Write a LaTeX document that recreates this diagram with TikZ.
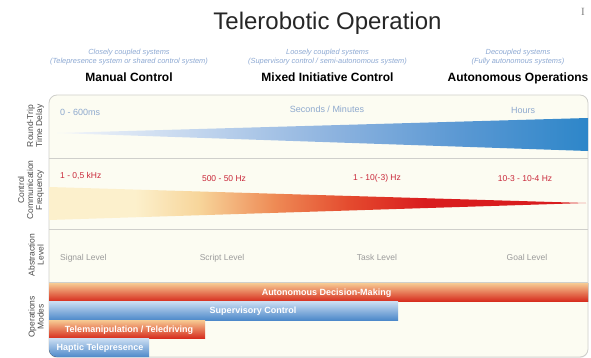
\documentclass[tikz,border=0pt]{standalone}
\usepackage{fontspec}
\setmainfont{Liberation Sans}
\newfontfamily\cursorFont{Liberation Serif}
\usetikzlibrary{shadows}
\tikzstyle{sheet} = [x = 1pt, y = -1pt]
\definecolor{panelFill}{HTML}{FCFCF2}
\definecolor{panelEdge}{HTML}{CFCFCB}
\definecolor{titleGray}{HTML}{262626}
\definecolor{subBlue}{HTML}{8CA8D2}
\definecolor{rowGray}{HTML}{4A4A4A}
\definecolor{delayBlue}{HTML}{8EA9CE}
\definecolor{freqRed}{HTML}{C9283A}
\definecolor{levelGray}{HTML}{9B9B9B}
\definecolor{delayPale}{HTML}{F4F6FA}
\definecolor{delayLight}{HTML}{C3D6EE}
\definecolor{delayMid}{HTML}{8DB3DF}
\definecolor{delayDeep}{HTML}{5A98D3}
\definecolor{delayDark}{HTML}{2D86C9}
\definecolor{freqPale}{HTML}{FCF0CC}
\definecolor{freqSand}{HTML}{F7D59A}
\definecolor{freqOrange}{HTML}{EE8A55}
\definecolor{freqScarlet}{HTML}{E44A2E}
\definecolor{freqCrimson}{HTML}{D91C1E}
\definecolor{barPeach}{HTML}{F7CB93}
\definecolor{barOrange}{HTML}{EC7D48}
\definecolor{barRed}{HTML}{D62A1C}
\definecolor{barSky}{HTML}{CADDF2}
\definecolor{barBlue}{HTML}{8AB2DF}
\definecolor{barNavy}{HTML}{4D89CA}
\pgfdeclarehorizontalshading{delayShade}{100bp}{color(0bp)=(delayPale); color(25bp)=(delayPale); color(38bp)=(delayLight); color(51bp)=(delayMid); color(63bp)=(delayDeep); color(75bp)=(delayDark); color(100bp)=(delayDark)}
\pgfdeclarehorizontalshading{freqShade}{100bp}{color(0bp)=(freqPale); color(25bp)=(freqPale); color(33bp)=(freqPale); color(39bp)=(freqSand); color(46bp)=(freqOrange); color(53bp)=(freqScarlet); color(60bp)=(freqCrimson); color(100bp)=(freqCrimson)}
\tikzstyle{titleText} = [anchor=base, inner sep=0pt, text=titleGray, font=\fontsize{24}{26}\selectfont]
\tikzstyle{cursorText} = [inner sep=0pt, text=gray, font=\cursorFont\fontsize{11}{11}\selectfont]
\tikzstyle{subText} = [anchor=base, inner sep=0pt, text=subBlue, font=\fontsize{7.4}{8}\selectfont\itshape]
\tikzstyle{headText} = [anchor=base, inner sep=0pt, text=black, font=\fontsize{12}{14}\selectfont\bfseries]
\tikzstyle{rowLabel} = [rotate=90, anchor=south, align=center, inner sep=0pt, text=rowGray, font=\fontsize{8.5}{9}\selectfont]
\tikzstyle{delayText} = [anchor=mid, inner sep=0pt, text=delayBlue, font=\fontsize{9}{10}\selectfont]
\tikzstyle{freqText} = [anchor=mid, inner sep=0pt, text=freqRed, font=\fontsize{8.5}{10}\selectfont]
\tikzstyle{levelText} = [anchor=mid, inner sep=0pt, text=levelGray, font=\fontsize{8.5}{10}\selectfont]
\tikzstyle{barText} = [anchor=mid, inner sep=0pt, text=white, font=\fontsize{9}{10}\selectfont\bfseries]
\tikzstyle{panelStyle} = [fill=panelFill, draw=panelEdge, line width=.8pt, rounded corners=8pt]
\tikzstyle{rowLine} = [draw=panelEdge, line width=.8pt]
\tikzstyle{orangeBar} = [top color=barPeach, middle color=barOrange, bottom color=barRed]
\tikzstyle{blueBar} = [top color=barSky, middle color=barBlue, bottom color=barNavy]
\newcommand{\columnHead}[5]{
  \node[subText] (#1Coupling) at (#2, 54.5) {#3};
  \node[subText] (#1Systems) at (#2, 63.5) {#4};
  \node[headText] (#1Head) at (#2, 81.5) {#5};
}
\newcommand{\modeBar}[6]{
  \fill[#4] (49, #2) rectangle (#3, #2 + 18.5);
  \node[barText] (#1) at (#5, #2 + 9.5) {#6};
}

\begin{document}
\begin{tikzpicture}[sheet]
  \useasboundingbox (0,0) rectangle (591,358);
  % title and the three columns
  \node[titleText] (title) at (327.5, 30) {Telerobotic Operation};
  \node[cursorText] (cursor) at (583, 12) {I};
  \columnHead{manual}{129}{Closely coupled systems}{(Telepresence system or shared control system)}{Manual Control}
  \columnHead{mixed}{327.5}{Loosely coupled systems}{(Supervisory control / semi-autonomous system)}{Mixed Initiative Control}
  \columnHead{autonomous}{518}{Decoupled systems}{(Fully autonomous systems)}{Autonomous Operations}

  % panel
  \filldraw[panelStyle, drop shadow={shadow xshift=0pt, shadow yshift=-1pt, opacity=.15}] (49, 95) rectangle (588, 357);
  \foreach \rowY in {158, 229, 282}
    \draw[rowLine] (49, \rowY) -- (588, \rowY);

  % row labels
  \node[rowLabel] (delayLabel) at (44, 126) {Round-Trip\\Time Delay};
  \node[rowLabel] (freqLabel) at (44, 190) {Control\\Communication\\Frequency};
  \node[rowLabel] (levelLabel) at (44, 255) {Abstraction\\Level};
  \node[rowLabel] (modeLabel) at (44, 317) {Operations\\Modes};

  % round-trip time delay
  \shade[shading=delayShade] (57, 133) -- (588, 118) -- (588, 151) -- cycle;
  \node[delayText, anchor=mid west] (delayLow) at (60, 113) {0 - 600ms};
  \node[delayText] (delayMid) at (327, 110) {Seconds / Minutes};
  \node[delayText] (delayHigh) at (523, 111) {Hours};

  % control communication frequency
  \shade[shading=freqShade] (49, 187) -- (586, 203) -- (49, 220) -- cycle;
  \node[freqText, anchor=mid west] (freqHigh) at (60, 176) {1 - 0,5 kHz};
  \node[freqText] (freqMid) at (224, 179) {500 - 50 Hz};
  \node[freqText] (freqLow) at (377, 178) {1 - 10(-3) Hz};
  \node[freqText] (freqLowest) at (525, 179) {10-3 - 10-4 Hz};

  % abstraction level
  \node[levelText, anchor=mid west] (signalLevel) at (60, 258) {Signal Level};
  \node[levelText] (scriptLevel) at (222, 258) {Script Level};
  \node[levelText] (taskLevel) at (377, 258) {Task Level};
  \node[levelText] (goalLevel) at (527, 258) {Goal Level};

  % operations modes
  \begin{scope}
    \clip[rounded corners=8pt] (49, 95) rectangle (588, 357);
    \modeBar{decisionBar}{283}{590}{orangeBar}{326.5}{Autonomous Decision-Making}
    \modeBar{supervisoryBar}{301.5}{398}{blueBar}{253}{Supervisory Control}
    \modeBar{teleBar}{320}{205}{orangeBar}{129}{Telemanipulation / Teledriving}
    \modeBar{hapticBar}{338.5}{149}{blueBar}{100}{Haptic Telepresence}
  \end{scope}
\end{tikzpicture}
\end{document}
